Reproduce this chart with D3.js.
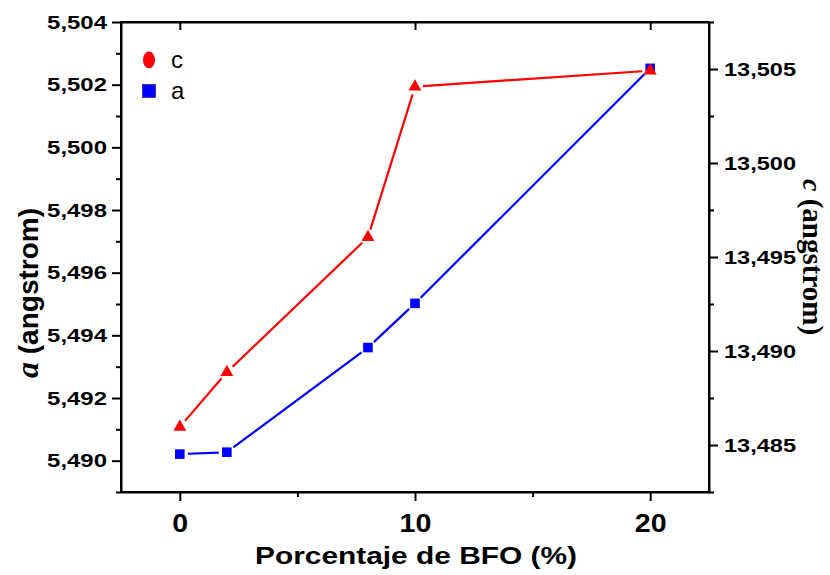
<!DOCTYPE html>
<html>
<head>
<meta charset="utf-8">
<script src="https://cdn.jsdelivr.net/npm/d3@7"></script>
<style>
  html, body { margin: 0; padding: 0; background: #fff; }
  svg { display: block; }
  text { font-family: "Liberation Sans", Arial, sans-serif; fill: #000; }
</style>
</head>
<body>
<svg id="chart" width="830" height="575"></svg>
<script>
// BFO content (%) and the refined lattice parameters
const pct = [0, 2, 8, 10, 20];
const aValues = [5.49021, 5.49027, 5.49361, 5.49502, 5.50252];
const cValues = [13.48596, 13.48887, 13.49605, 13.50406, 13.50491];

// axis ticks
const xMajor = [0, 10, 20];
const xMinor = [5, 15];
const aMajor = [5.490, 5.492, 5.494, 5.496, 5.498, 5.500, 5.502, 5.504];
const aMinor = [5.489, 5.491, 5.493, 5.495, 5.497, 5.499, 5.501, 5.503];
const cMajor = [13.485, 13.490, 13.495, 13.500, 13.505];
const cMinor = [13.4825, 13.4875, 13.4925, 13.4975, 13.5025, 13.5075];

const legendItems = [
  { label: "c", color: "#ff0000", shape: "ellipse" },
  { label: "a", color: "#0000ff", shape: "square" }
];

const svg = d3.select("#chart");
const L = 121, R = 709, T = 22, B = 492;

const x = d3.scaleLinear().domain([-2.5, 22.5]).range([L, R]);
const yA = d3.scaleLinear().domain([5.489, 5.504]).range([B, T]);
const yC = d3.scaleLinear().domain([13.4825, 13.5075]).range([B, T]);

// decimal comma
const loc = d3.formatLocale({ decimal: ",", thousands: ".", grouping: [3], currency: ["", ""] });
const fmt3 = loc.format(".3f");

const axisStroke = 2;

function styleAxis(g) {
  g.selectAll("path.domain").attr("stroke", "#000").attr("stroke-width", axisStroke);
  g.selectAll(".tick line").attr("stroke", "#000").attr("stroke-width", axisStroke);
}

// bottom axis
const gxB = svg.append("g").attr("transform", `translate(0,${B})`)
  .call(d3.axisBottom(x).tickValues(xMajor).tickSize(9).tickSizeOuter(0).tickFormat(d3.format("d")))
  .call(styleAxis);
gxB.selectAll(".tick text")
  .attr("y", 0).attr("dy", 0)
  .attr("transform", "translate(0,40) scale(1.1,1)")
  .style("font-size", "26px").style("font-weight", "bold");
svg.append("g").attr("transform", `translate(0,${B})`)
  .call(d3.axisBottom(x).tickValues(xMinor).tickSize(5).tickFormat(""))
  .call(g => g.select(".domain").remove())
  .call(styleAxis);

// top axis (mirror, ticks inward)
svg.append("g").attr("transform", `translate(0,${T})`)
  .call(d3.axisBottom(x).tickValues(xMajor).tickSize(8).tickSizeOuter(0).tickFormat(""))
  .call(styleAxis);

// left axis (a)
const gyA = svg.append("g").attr("transform", `translate(${L},0)`)
  .call(d3.axisLeft(yA).tickValues(aMajor).tickSize(9).tickSizeOuter(0).tickFormat(fmt3))
  .call(styleAxis);
gyA.selectAll(".tick text")
  .attr("x", 0)
  .attr("transform", "translate(-14,0) scale(1.26,1)")
  .style("font-size", "19px").style("font-weight", "bold");
svg.append("g").attr("transform", `translate(${L},0)`)
  .call(d3.axisLeft(yA).tickValues(aMinor).tickSize(5).tickFormat(""))
  .call(g => g.select(".domain").remove())
  .call(styleAxis);

// right axis (c)
const gyC = svg.append("g").attr("transform", `translate(${R},0)`)
  .call(d3.axisRight(yC).tickValues(cMajor).tickSize(9).tickSizeOuter(0).tickFormat(fmt3))
  .call(styleAxis);
gyC.selectAll(".tick text")
  .attr("x", 0)
  .attr("transform", "translate(15,0) scale(1.24,1)")
  .style("font-size", "19px").style("font-weight", "bold");
svg.append("g").attr("transform", `translate(${R},0)`)
  .call(d3.axisRight(yC).tickValues(cMinor).tickSize(5).tickFormat(""))
  .call(g => g.select(".domain").remove())
  .call(styleAxis);

// frame
svg.append("rect").attr("x", L).attr("y", T).attr("width", R - L).attr("height", B - T)
  .attr("fill", "none").attr("stroke", "#000").attr("stroke-width", axisStroke);

// series lines with a small gap around each marker
function drawSeries(values, yScale, color) {
  const pts = pct.map((p, i) => [x(p), yScale(values[i])]);
  const gap = 8;
  const g = svg.append("g");
  for (let i = 0; i < pts.length - 1; i++) {
    const [x0, y0] = pts[i], [x1, y1] = pts[i + 1];
    const len = Math.hypot(x1 - x0, y1 - y0);
    const ux = (x1 - x0) / len, uy = (y1 - y0) / len;
    g.append("line")
      .attr("x1", x0 + ux * gap).attr("y1", y0 + uy * gap)
      .attr("x2", x1 - ux * gap).attr("y2", y1 - uy * gap)
      .attr("stroke", color).attr("stroke-width", 2.2);
  }
  return pts;
}

const ptsA = drawSeries(aValues, yA, "#0000ff");
const ptsC = drawSeries(cValues, yC, "#ff0000");

svg.append("g").selectAll("path").data(ptsA).join("path")
  .attr("transform", d => `translate(${d[0]},${d[1]})`)
  .attr("d", d3.symbol().type(d3.symbolSquare).size(92))
  .attr("fill", "#0000ff");

svg.append("g").selectAll("path").data(ptsC).join("path")
  .attr("transform", d => `translate(${d[0]},${d[1]})`)
  .attr("d", d3.symbol().type(d3.symbolTriangle).size(72))
  .attr("fill", "#ff0000");

// legend
const lg = svg.append("g");
legendItems.forEach((it, i) => {
  const cy = 60 + i * 31;
  if (it.shape === "ellipse") {
    lg.append("ellipse").attr("cx", 149).attr("cy", cy).attr("rx", 6).attr("ry", 8.5).attr("fill", it.color);
  } else {
    lg.append("rect").attr("x", 142.5).attr("y", cy - 6.5).attr("width", 13).attr("height", 13)
      .attr("fill", it.color).attr("stroke", "#0000aa").attr("stroke-width", 0.6);
  }
  lg.append("text").attr("x", 171).attr("y", cy + 8)
    .style("font-size", "24px").text(it.label);
});

// axis titles
svg.append("text")
  .attr("x", 0).attr("y", 0)
  .attr("text-anchor", "middle")
  .attr("transform", "translate(416,564) scale(1.3,1)")
  .style("font-size", "23px").style("font-weight", "bold")
  .text("Porcentaje de BFO (%)");

const tl = svg.append("text")
  .attr("transform", "translate(38,378) rotate(-90)")
  .style("font-weight", "bold");
tl.append("tspan")
  .style("font-family", "'Liberation Serif', 'Times New Roman', serif")
  .style("font-style", "italic").style("font-size", "32px").text("a");
tl.append("tspan").style("font-size", "28px").text(" (angstrom)");

const tr = svg.append("text")
  .attr("transform", "translate(803,179) rotate(90)")
  .style("font-family", "'Liberation Serif', 'Times New Roman', serif")
  .style("font-weight", "bold").style("font-size", "28px");
tr.append("tspan").style("font-style", "italic").text("c");
tr.append("tspan").style("font-size", "29px").text(" (angstrom)");
</script>
</body>
</html>
